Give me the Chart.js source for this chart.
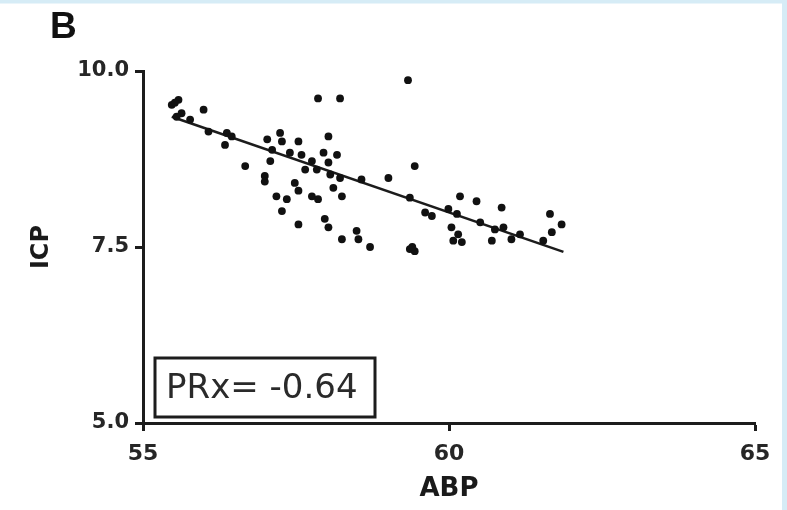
<!DOCTYPE html>
<html>
<head>
  <meta charset="UTF-8">
  <title>ICP vs ABP</title>
  <script src="https://cdn.jsdelivr.net/npm/chart.js"></script>
  <style>
    html, body { margin: 0; padding: 0; background: #fff; }
    #plot { display: block; }
  </style>
</head>
<body>
  <canvas id="plot" width="787" height="510"></canvas>

  <script>
    // ABP / ICP pairs
    const abp = [
      55.47, 55.58, 55.52, 55.99, 55.63, 55.55, 55.77, 56.07, 56.37, 56.45, 56.34,
      57.24, 57.27, 57.54, 58.03, 57.03, 57.11, 56.67, 57.08, 56.99, 56.99,
      57.40, 57.59, 57.76, 57.65, 57.95, 58.17, 58.03, 57.84, 58.06, 58.22,
      58.11, 57.48, 57.18, 57.35, 57.54, 57.76, 57.86, 58.25, 57.27, 57.54,
      57.97, 58.03, 58.25, 58.49, 58.52, 58.71, 57.86, 58.22, 59.33, 58.57,
      59.01, 59.44, 59.36, 59.61, 59.72, 60.18, 60.45, 60.86, 59.99, 60.13,
      60.04, 60.15, 60.07, 60.21, 60.51, 60.70, 60.75, 60.89, 61.02, 61.16,
      61.54, 61.65, 61.68, 61.84, 59.36, 59.44, 59.40
    ];
    const icp = [
      9.52, 9.59, 9.55, 9.45, 9.40, 9.35, 9.31, 9.14, 9.12, 9.07, 8.95,
      9.12, 9.00, 9.00, 9.07, 9.03, 8.88, 8.65, 8.72, 8.51, 8.43,
      8.84, 8.81, 8.72, 8.60, 8.84, 8.81, 8.70, 8.60, 8.53, 8.48,
      8.34, 8.41, 8.22, 8.18, 8.30, 8.22, 8.18, 8.22, 8.01, 7.82,
      7.90, 7.78, 7.61, 7.73, 7.61, 7.50, 9.61, 9.61, 9.87, 8.46,
      8.48, 8.65, 8.20, 7.99, 7.94, 8.22, 8.15, 8.06, 8.04, 7.97,
      7.78, 7.68, 7.59, 7.57, 7.85, 7.59, 7.75, 7.78, 7.61, 7.68,
      7.59, 7.97, 7.71, 7.82, 7.47, 7.44, 7.50
    ];

    // regression line end points
    const fitAbp = [55.47, 61.87];
    const fitIcp = [9.35, 7.43];

    const xTicks = [55, 60, 65];
    const yTicks = [5.0, 7.5, 10.0];

    const panelLabel = 'B';
    const prxLabel = 'PRx= -0.64';

    const ink = '#1c1c1c';
    Chart.defaults.font.family = "'DejaVu Sans', sans-serif";
    Chart.defaults.color = '#262626';

    // white page with the pale blue frame strips, then panel letter + PRx box
    const decor = {
      id: 'decor',
      beforeDraw(chart) {
        const c = chart.ctx;
        c.save();
        c.fillStyle = '#ffffff';
        c.fillRect(0, 0, chart.width, chart.height);
        c.fillStyle = '#d6ecf6';
        c.fillRect(0, 0, chart.width, 3.5);
        c.fillRect(chart.width - 5, 0, 5, chart.height);
        c.restore();
      },
      afterDraw(chart) {
        const c = chart.ctx;
        const a = chart.chartArea;
        c.save();
        c.fillStyle = '#111';
        c.font = "bold 37px 'Liberation Sans', Arial, sans-serif";
        c.textBaseline = 'alphabetic';
        c.fillText(panelLabel, 50, 38);

        const bx = a.left + 12, by = a.bottom - 65, bw = 220, bh = 59;
        c.strokeStyle = ink;
        c.lineWidth = 3;
        c.strokeRect(bx, by, bw, bh);
        c.fillStyle = '#2a2a2a';
        c.font = "34px 'DejaVu Sans', sans-serif";
        c.textBaseline = 'middle';
        c.fillText(prxLabel, bx + 11, by + bh / 2 + 2);
        c.restore();
      }
    };

    const axisCommon = {
      type: 'linear',
      border: { display: true, color: ink, width: 3 },
      grid: {
        drawOnChartArea: false,
        drawTicks: true,
        tickLength: 8,
        tickColor: ink,
        tickWidth: 3
      }
    };

    new Chart(document.getElementById('plot'), {
      type: 'scatter',
      data: {
        datasets: [
          {
            data: abp.map((x, i) => ({ x: x, y: icp[i] })),
            pointRadius: 3.9,
            pointBackgroundColor: '#111',
            pointBorderWidth: 0
          },
          {
            type: 'line',
            data: fitAbp.map((x, i) => ({ x: x, y: fitIcp[i] })),
            borderColor: ink,
            borderWidth: 2.5,
            pointRadius: 0,
            fill: false
          }
        ]
      },
      options: {
        responsive: false,
        animation: false,
        devicePixelRatio: 1,
        layout: { padding: { left: 0, top: 71, right: 32, bottom: 0 } },
        plugins: { legend: { display: false }, tooltip: { enabled: false } },
        scales: {
          x: {
            ...axisCommon,
            min: 55, max: 65,
            afterBuildTicks: s => { s.ticks = xTicks.map(v => ({ value: v })); },
            afterFit: s => { s.height = 87; },
            ticks: { padding: 10, font: { size: 22, weight: 'bold' }, callback: v => String(v) },
            title: { display: true, text: 'ABP', font: { size: 26, weight: 'bold' }, color: '#1a1a1a', padding: { top: 0, bottom: 5 } }
          },
          y: {
            ...axisCommon,
            min: 5, max: 10,
            afterBuildTicks: s => { s.ticks = yTicks.map(v => ({ value: v })); },
            afterFit: s => { s.width = 143; },
            ticks: { padding: 6, font: { size: 21, weight: 'bold' }, callback: v => Number(v).toFixed(1) },
            title: { display: true, text: 'ICP', font: { size: 24, weight: 'bold' }, color: '#1a1a1a', padding: { top: 27, bottom: 0 } }
          }
        }
      },
      plugins: [decor]
    });
  </script>
</body>
</html>
